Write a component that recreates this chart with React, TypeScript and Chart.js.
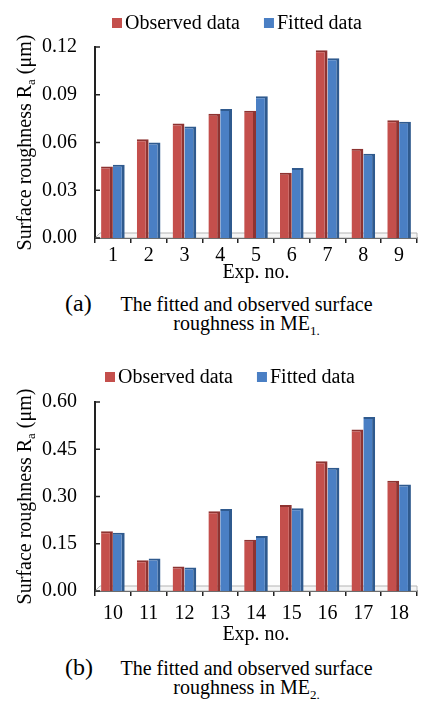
import React, { useEffect, useRef } from "react";
import { Chart, registerables } from "chart.js";

Chart.register(...registerables);

// ---------- data ----------
const legendLabels = ["Observed data", "Fitted data"];
const xTitle = "Exp. no.";
const yTitleMain = "Surface roughness R";
const yTitleSub = "a";
const yTitleTail = " (μm)";

const categories1 = ["1", "2", "3", "4", "5", "6", "7", "8", "9"];
const observed1 = [0.045, 0.062, 0.072, 0.078, 0.08, 0.041, 0.118, 0.056, 0.074];
const fitted1 = [0.046, 0.06, 0.07, 0.081, 0.089, 0.044, 0.113, 0.053, 0.073];
const yTicks1 = [0, 0.03, 0.06, 0.09, 0.12];

const categories2 = ["10", "11", "12", "13", "14", "15", "16", "17", "18"];
const observed2 = [0.19, 0.098, 0.078, 0.253, 0.163, 0.273, 0.412, 0.513, 0.35];
const fitted2 = [0.185, 0.103, 0.075, 0.26, 0.175, 0.263, 0.391, 0.552, 0.338];
const yTicks2 = [0, 0.15, 0.3, 0.45, 0.6];

// ---------- styles ----------
const FAMILY = "Liberation Serif";
const FONT = `"${FAMILY}", "Times New Roman", serif`;
const RED = "#C44F4C";
const RED_D = "#8E3331";
const BLUE = "#4A7FC4";
const BLUE_D = "#2F5A8E";

const decorPlugin = {
  id: "decor",
  beforeDatasetsDraw(chart: any) {
    const { ctx, chartArea } = chart;
    const { left, right, bottom } = chartArea;
    ctx.save();
    ctx.fillStyle = "#F5F5F5";
    ctx.strokeStyle = "#B5B5B5";
    ctx.lineWidth = 1;
    ctx.beginPath();
    ctx.moveTo(left, bottom);
    ctx.lineTo(left + 5, bottom - 5);
    ctx.lineTo(right, bottom - 5);
    ctx.lineTo(right, bottom);
    ctx.closePath();
    ctx.fill();
    ctx.stroke();
    ctx.restore();
  },
  afterDraw(chart: any) {
    const o = chart.options.plugins.decor || {};
    const { ctx, chartArea } = chart;
    ctx.save();
    // inner y ticks
    const ys = chart.scales.y;
    ctx.strokeStyle = "#222";
    ctx.lineWidth = 1.5;
    ys.ticks.forEach((t: any) => {
      const py = ys.getPixelForValue(t.value);
      ctx.beginPath();
      ctx.moveTo(chartArea.left, py);
      ctx.lineTo(chartArea.left + 5, py);
      ctx.stroke();
    });
    // y title with subscript
    ctx.fillStyle = "#000";
    ctx.textBaseline = "alphabetic";
    ctx.textAlign = "left";
    const mainFont = `20px ${FONT}`;
    const subFont = `13px ${FONT}`;
    ctx.font = mainFont;
    const w1 = ctx.measureText(yTitleMain).width;
    const w3 = ctx.measureText(yTitleTail).width;
    ctx.font = subFont;
    const w2 = ctx.measureText(yTitleSub).width;
    const total = w1 + w2 + w3;
    ctx.translate(o.yTitleX ?? 31, (chartArea.top + chartArea.bottom) / 2);
    ctx.rotate(-Math.PI / 2);
    let x = -total / 2;
    ctx.font = mainFont;
    ctx.fillText(yTitleMain, x, 0);
    x += w1;
    ctx.font = subFont;
    ctx.fillText(yTitleSub, x, 4);
    x += w2;
    ctx.font = mainFont;
    ctx.fillText(yTitleTail, x, 0);
    ctx.restore();

    // legend
    ctx.save();
    ctx.font = `20px ${FONT}`;
    ctx.textBaseline = "middle";
    ctx.textAlign = "left";
    let lx = o.legendX ?? 110;
    const ly = o.legendY ?? 22;
    const box = 10;
    chart.data.datasets.forEach((ds: any) => {
      ctx.fillStyle = ds.backgroundColor;
      ctx.fillRect(lx, ly - box / 2, box, box);
      lx += box + 3;
      ctx.fillStyle = "#000";
      ctx.fillText(ds.label, lx, ly + 1);
      lx += ctx.measureText(ds.label).width + 24;
    });
    ctx.restore();
  },
};

function makeConfig(
  labels: string[],
  obs: number[],
  fit: number[],
  ticks: number[],
  geo: { padTop: number; xHeight: number; tickPad: number; titlePad: number; legendX: number; legendY: number }
): any {
  const max = ticks[ticks.length - 1];
  return {
    type: "bar",
    data: {
      labels,
      datasets: [
        {
          label: legendLabels[0],
          data: obs,
          backgroundColor: RED,
          borderColor: RED_D,
          borderWidth: { top: 2, right: 3, left: 0, bottom: 0 },
          borderSkipped: "start",
        },
        {
          label: legendLabels[1],
          data: fit,
          backgroundColor: BLUE,
          borderColor: BLUE_D,
          borderWidth: { top: 2, right: 3, left: 0, bottom: 0 },
          borderSkipped: "start",
        },
      ],
    },
    options: {
      animation: false,
      responsive: false,
      maintainAspectRatio: false,
      layout: { padding: { top: geo.padTop, right: 5, left: 0, bottom: 0 } },
      datasets: { bar: { categoryPercentage: 0.66, barPercentage: 1.0 } },
      plugins: {
        legend: { display: false },
        tooltip: { enabled: false },
        decor: { legendX: geo.legendX, legendY: geo.legendY, yTitleX: 31 },
      },
      scales: {
        x: {
          type: "category",
          offset: true,
          grid: {
            offset: true,
            drawOnChartArea: false,
            drawTicks: true,
            tickLength: 5,
            color: "#222",
            lineWidth: 1.5,
          },
          border: { display: true, color: "#222", width: 2 },
          ticks: {
            font: { family: FONT, size: 20 },
            color: "#000",
            padding: geo.tickPad,
            maxRotation: 0,
            autoSkip: false,
          },
          title: {
            display: true,
            text: xTitle,
            font: { family: FONT, size: 20 },
            color: "#000",
            padding: { top: 0, bottom: geo.titlePad },
          },
          afterFit: (s: any) => {
            s.height = geo.xHeight;
          },
        },
        y: {
          min: 0,
          max,
          grid: { display: false },
          border: { display: true, color: "#222", width: 2 },
          afterBuildTicks: (axis: any) => {
            axis.ticks = ticks.map((v) => ({ value: v }));
          },
          ticks: {
            font: { family: FONT, size: 20 },
            color: "#000",
            padding: 10,
            callback: (v: any) => Number(v).toFixed(2),
          },
          afterFit: (s: any) => {
            s.width = 95;
          },
        },
      },
    },
    plugins: [decorPlugin],
  };
}

function BarCanvas({ config, top, height }: { config: any; top: number; height: number }) {
  const ref = useRef<HTMLCanvasElement | null>(null);
  useEffect(() => {
    let chart: Chart | null = null;
    let cancelled = false;
    const build = () => {
      if (cancelled || !ref.current) return;
      chart = new Chart(ref.current, config);
    };
    const fonts: any = (document as any).fonts;
    if (fonts && fonts.load) {
      Promise.all([fonts.load(`20px "${FAMILY}"`), fonts.load(`13px "${FAMILY}"`)])
        .then(build, build);
    } else {
      build();
    }
    return () => {
      cancelled = true;
      if (chart) chart.destroy();
    };
  }, []);
  return (
    <canvas
      ref={ref}
      width={422}
      height={height}
      style={{ position: "absolute", left: 0, top, width: 422, height }}
    />
  );
}

const capText: React.CSSProperties = {
  position: "absolute",
  fontFamily: FONT,
  fontSize: 20,
  lineHeight: "20px",
  color: "#000",
  whiteSpace: "nowrap",
};

function Caption({ letter, top, sub }: { letter: string; top: number; sub: string }) {
  return (
    <>
      <div style={{ ...capText, left: 65, top: top - 3, fontSize: 24, lineHeight: "24px" }}>({letter})</div>
      <div style={{ ...capText, left: 118, width: 257, textAlign: "center", top }}>
        The fitted and observed surface
      </div>
      <div style={{ ...capText, left: 118, width: 257, textAlign: "center", top: top + 19 }}>
        roughness in ME<sub style={{ fontSize: 13, lineHeight: 0 }}>{sub}.</sub>
      </div>
    </>
  );
}

export default function App() {
  const cfg1 = makeConfig(categories1, observed1, fitted1, yTicks1, {
    padTop: 47,
    xHeight: 52,
    tickPad: 1,
    titlePad: 5,
    legendX: 112,
    legendY: 23,
  });
  const cfg2 = makeConfig(categories2, observed2, fitted2, yTicks2, {
    padTop: 72,
    xHeight: 59,
    tickPad: 6,
    titlePad: 3,
    legendX: 105,
    legendY: 47,
  });
  return (
    <div style={{ position: "absolute", left: 0, top: 0, width: 422, height: 705, background: "#fff" }}>
      <BarCanvas config={cfg1} top={0} height={290} />
      <Caption letter="a" top={294} sub="1" />
      <BarCanvas config={cfg2} top={330} height={320} />
      <Caption letter="b" top={658} sub="2" />
    </div>
  );
}
